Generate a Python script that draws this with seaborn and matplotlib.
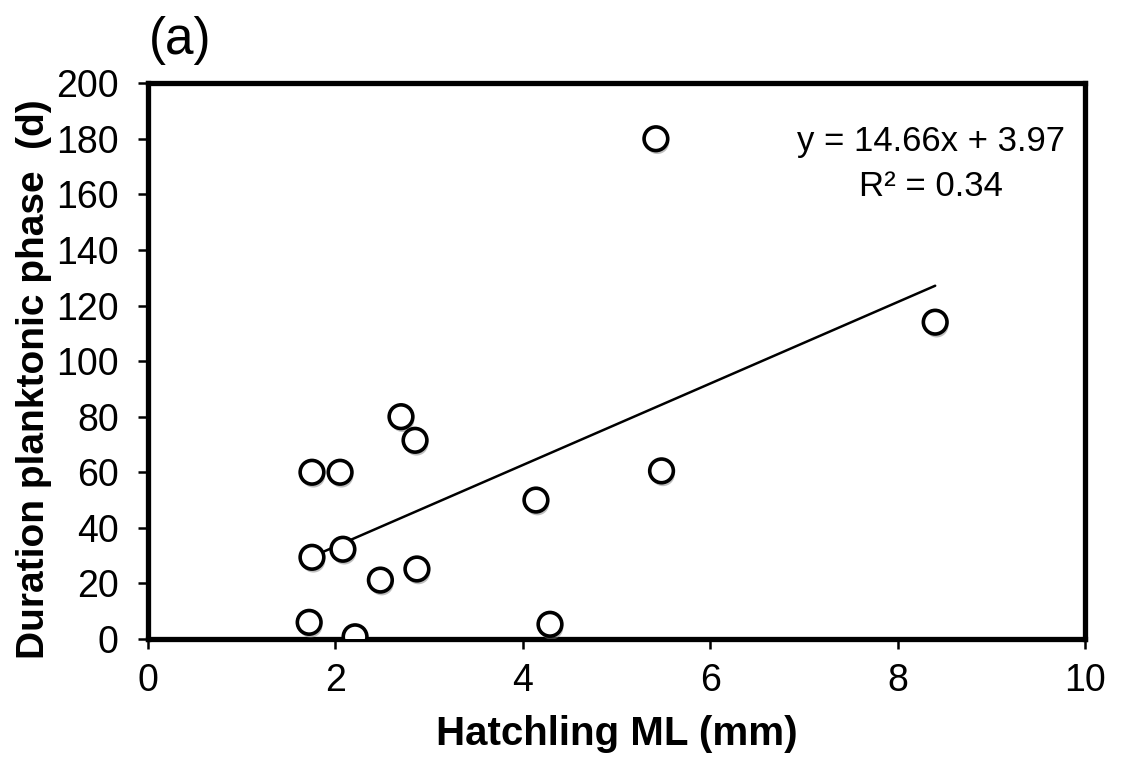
import matplotlib
matplotlib.use("Agg")
import matplotlib.pyplot as plt
import matplotlib.patheffects as pe
import numpy as np
import pandas as pd
import seaborn as sns

# Data
hatchling_ml = [5.42, 8.40, 2.70, 2.85, 1.75, 2.05, 5.48, 4.14, 2.08, 1.75, 2.87, 2.48, 1.72, 2.21, 4.29]
duration_d = [180, 114, 80, 71.5, 60, 60, 60.5, 50, 32.3, 29.4, 25.2, 21.2, 6.0, 0.8, 5.3]
fit_slope = 14.66
fit_intercept = 3.97
fit_r2 = 0.34
x_ticks = [0, 2, 4, 6, 8, 10]
y_ticks = [0, 20, 40, 60, 80, 100, 120, 140, 160, 180, 200]

sns.set_theme(style="white")
plt.rcParams['font.family'] = ['Liberation Sans', 'DejaVu Sans']

df = pd.DataFrame({"x": hatchling_ml, "y": duration_d})
fx = np.array([min(hatchling_ml), max(hatchling_ml)])
fit_df = pd.DataFrame({"x": fx, "y": fit_slope * fx + fit_intercept})

fig = plt.figure(figsize=(11.21, 7.63), dpi=100)
ax = fig.add_axes([0.132, 0.1625, 0.836, 0.7285])

sns.lineplot(data=fit_df, x="x", y="y", ax=ax, color="black", linewidth=1.8, zorder=2)
sns.scatterplot(data=df, x="x", y="y", ax=ax, s=290, color="white", edgecolor="black",
                linewidth=2.6, zorder=3,
                path_effects=[pe.SimplePatchShadow(offset=(1, -2.5), shadow_rgbFace="gray", alpha=0.5),
                              pe.Normal()])

ax.set_xlim(0, 10)
ax.set_ylim(0, 200)
ax.set_xticks(x_ticks)
ax.set_yticks(y_ticks)
ax.tick_params(axis="both", which="both", direction="out", length=7, width=1.8,
               color="black", labelsize=27, labelcolor="black",
               bottom=True, left=True, top=False, right=False)
ax.tick_params(axis="y", pad=14)
ax.tick_params(axis="x", pad=10)
for s in ax.spines.values():
    s.set_visible(True)
    s.set_color("black")
    s.set_linewidth(3.8)

ax.set_xlabel("Hatchling ML (mm)", fontsize=29, fontweight="bold", labelpad=12, color="black")
ax.set_ylabel("Duration planktonic phase  (d)", fontsize=28, fontweight="bold", color="black")
ax.yaxis.set_label_coords(-0.102, 0.468)

ax.text(0.836, 0.855, f"y = {fit_slope:.2f}x + {fit_intercept:.2f}\nR² = {fit_r2:.2f}",
        transform=ax.transAxes, ha="center", va="center", fontsize=25, linespacing=1.45, color="black")
fig.text(0.133, 0.947, "(a)", fontsize=37, ha="left", va="center", color="black")

fig.savefig("out.png", dpi=100)
